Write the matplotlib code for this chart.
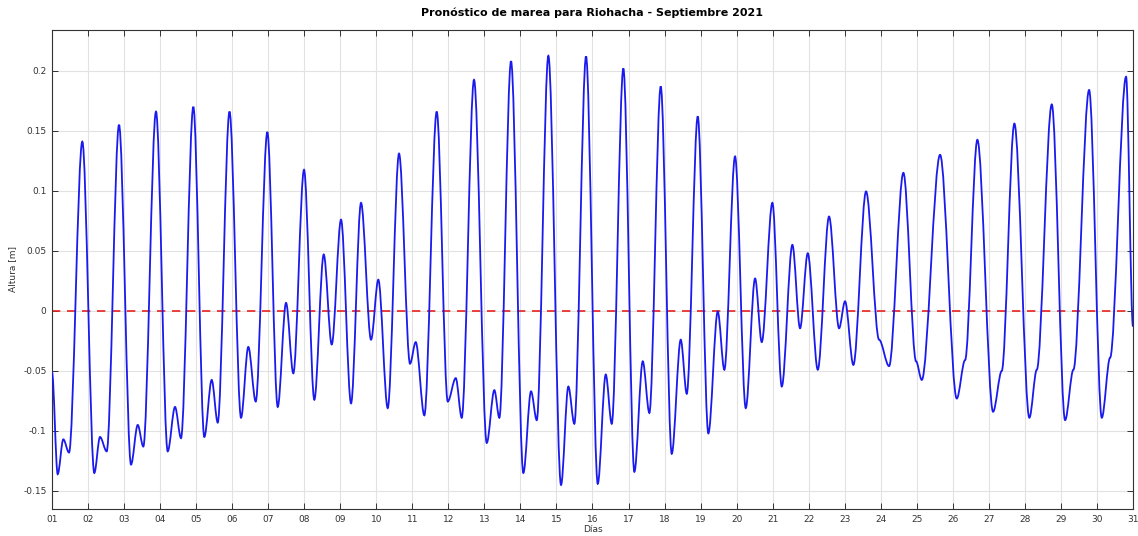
import numpy as np
import matplotlib
matplotlib.use("Agg")
import matplotlib.pyplot as plt
from matplotlib.path import Path
from matplotlib.patches import PathPatch

# Turning points of the tide curve (day of month, height in m)
dias = [1.000, 1.158, 1.314, 1.472, 1.841, 2.174, 2.332, 2.518, 2.860, 3.193,
        3.379, 3.534, 3.886, 4.211, 4.414, 4.580, 4.922, 5.227, 5.432, 5.599,
        5.926, 6.246, 6.448, 6.654, 6.976, 7.264, 7.495, 7.697, 7.994, 8.280,
        8.541, 8.763, 9.021, 9.299, 9.576, 9.854, 10.056, 10.317, 10.631, 10.936,
        11.094, 11.333, 11.677, 11.983, 12.205, 12.371, 12.712, 13.065, 13.276, 13.415,
        13.739, 14.081, 14.294, 14.453, 14.775, 15.127, 15.330, 15.496, 15.821, 16.146,
        16.368, 16.534, 16.856, 17.162, 17.395, 17.578, 17.894, 18.199, 18.449, 18.616,
        18.921, 19.215, 19.476, 19.659, 19.956, 20.253, 20.512, 20.697, 20.992, 21.253,
        21.547, 21.760, 21.974, 22.252, 22.565, 22.843, 23.009, 23.240, 23.592, 23.953,
        24.231, 24.628, 24.980, 25.138, 25.646, 26.109, 26.340, 26.681, 27.117, 27.358,
        27.708, 28.124, 28.330, 28.746, 29.116, 29.346, 29.782, 30.134, 30.364, 30.808,
        31.000]
altura = [-0.051, -0.136, -0.107, -0.118, 0.141, -0.135, -0.105, -0.117, 0.155, -0.128,
          -0.095, -0.113, 0.166, -0.117, -0.080, -0.106, 0.170, -0.105, -0.0575, -0.093,
          0.166, -0.089, -0.030, -0.0755, 0.149, -0.080, 0.0067, -0.052, 0.1175, -0.074,
          0.047, -0.028, 0.076, -0.077, 0.090, -0.024, 0.026, -0.081, 0.131, -0.044,
          -0.026, -0.087, 0.166, -0.0755, -0.056, -0.089, 0.1925, -0.110, -0.066, -0.089,
          0.208, -0.135, -0.067, -0.091, 0.2125, -0.145, -0.063, -0.094, 0.212, -0.144,
          -0.053, -0.094, 0.202, -0.134, -0.042, -0.085, 0.187, -0.119, -0.024, -0.069,
          0.162, -0.102, -0.0005, -0.049, 0.1286, -0.081, 0.027, -0.026, 0.090, -0.063,
          0.055, -0.0145, 0.048, -0.049, 0.0786, -0.0145, 0.008, -0.045, 0.0995, -0.024,
          -0.046, 0.115, -0.042, -0.0575, 0.130, -0.073, -0.041, 0.1425, -0.084, -0.050,
          0.156, -0.089, -0.049, 0.172, -0.091, -0.049, 0.184, -0.089, -0.039, 0.195,
          -0.013]

dia_ticks = list(range(1, 32))
dia_labels = ["%02d" % d for d in dia_ticks]
alt_ticks = [-0.15, -0.1, -0.05, 0, 0.05, 0.1, 0.15, 0.2]
alt_labels = ["-0.15", "-0.1", "-0.05", "0", "0.05", "0.1", "0.15", "0.2"]

fig = plt.figure(figsize=(11.38, 5.36), dpi=100)
ax = fig.add_axes([0.0457, 0.0504, 0.9499, 0.8937])

# smooth curve between turning points: cubic segments with flat tangents at each point
verts = [(dias[0], altura[0])]
codes = [Path.MOVETO]
for i in range(len(dias) - 1):
    x0, y0 = dias[i], altura[i]
    x1, y1 = dias[i + 1], altura[i + 1]
    dx = (x1 - x0) / 3.0
    verts += [(x0 + dx, y0), (x1 - dx, y1), (x1, y1)]
    codes += [Path.CURVE4] * 3
curva = PathPatch(Path(verts, codes), fill=False, edgecolor="#1a1aee", lw=1.3,
                  zorder=3)
ax.add_patch(curva)

ax.axhline(0, color="#e8221c", ls="--", lw=1.2, dashes=(5, 4), zorder=2)

ax.set_xlim(1, 31)
ax.set_ylim(-0.165, 0.234)
ax.set_xticks(dia_ticks)
ax.set_xticklabels(dia_labels)
ax.set_yticks(alt_ticks)
ax.set_yticklabels(alt_labels)
ax.grid(True, color="#e2e2e2", lw=0.8)
ax.set_axisbelow(True)
ax.tick_params(direction="in", top=True, right=True, length=4, width=0.7,
               labelsize=6.5, colors="#333333", pad=4)
for s in ax.spines.values():
    s.set_color("#333333")
    s.set_linewidth(0.8)

ax.set_title("Pronóstico de marea para Riohacha - Septiembre 2021",
             fontsize=8, fontweight="bold", pad=10)
ax.set_xlabel("Días", fontsize=6.5, color="#333333", labelpad=1)
ax.set_ylabel("Altura [m]", fontsize=6.5, color="#333333", labelpad=4)

fig.savefig("out.png", dpi=100)
